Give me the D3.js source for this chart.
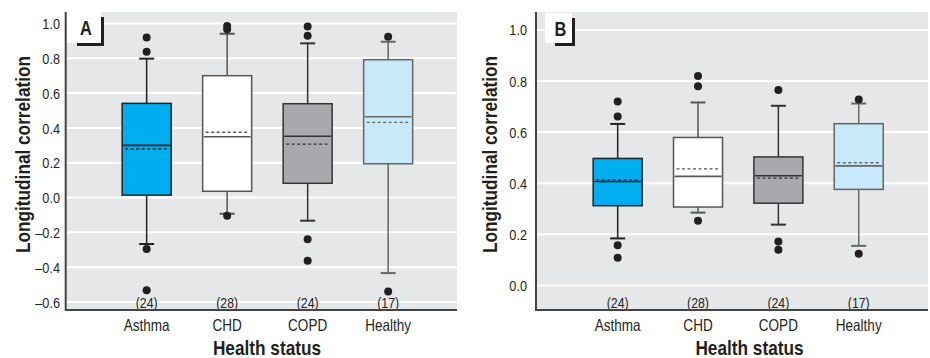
<!DOCTYPE html>
<html>
<head>
<meta charset="utf-8">
<script src="https://cdn.jsdelivr.net/npm/d3@7"></script>
<style>
  body { margin: 0; background: #fff; }
  text { font-family: "Liberation Sans Narrow", "Arial Narrow", "Liberation Sans", Arial, sans-serif; fill: #231f20; }
</style>
</head>
<body>
<div id="chart"></div>
<script>
const categories = ["Asthma", "CHD", "COPD", "Healthy"];
const counts = [24, 28, 24, 17];
const fills = ["#00aeef", "#ffffff", "#a7a9ac", "#c7e9f9"];
const strokes = ["#222", "#555", "#333", "#666"];

// panel A
const ticksA = [-0.6, -0.4, -0.2, 0.0, 0.2, 0.4, 0.6, 0.8, 1.0];
const q1A = [0.014, 0.036, 0.082, 0.194];
const medianA = [0.30, 0.349, 0.352, 0.464];
const meanA = [0.279, 0.375, 0.307, 0.432];
const q3A = [0.541, 0.70, 0.539, 0.792];
const whiskerLoA = [-0.267, -0.093, -0.133, -0.434];
const whiskerHiA = [0.798, 0.941, 0.886, 0.895];
const outliersA = [
  [0.92, 0.838, -0.296, -0.532],
  [0.986, 0.967, -0.105],
  [0.982, 0.93, -0.239, -0.363],
  [0.924, -0.539]
];

// panel B
const ticksB = [0.0, 0.2, 0.4, 0.6, 0.8, 1.0];
const q1B = [0.312, 0.307, 0.322, 0.376];
const medianB = [0.407, 0.427, 0.429, 0.468];
const meanB = [0.413, 0.456, 0.42, 0.48];
const q3B = [0.497, 0.579, 0.503, 0.633];
const whiskerLoB = [0.184, 0.285, 0.238, 0.155];
const whiskerHiB = [0.632, 0.716, 0.703, 0.712];
const outliersB = [
  [0.72, 0.661, 0.157, 0.108],
  [0.82, 0.779, 0.253],
  [0.765, 0.172, 0.14],
  [0.728, 0.124]
];

const svg = d3.select("#chart").append("svg")
  .attr("width", 930)
  .attr("height", 358);

const fmt = d => d < 0 ? "\u2013" + d3.format(".1f")(-d) : d3.format(".1f")(d);

// no condensed font installed, so squeeze the glyphs a bit
function condense() {
  const w = this.getComputedTextLength();
  d3.select(this).attr("textLength", w * 0.82).attr("lengthAdjust", "spacingAndGlyphs");
}

const drawPanel = p => {
  const top = 12, bottom = 310;
  const y = d3.scaleLinear().domain(p.yDomain).range([bottom, top]);
  const x = d3.scalePoint().domain(categories).range(p.xRange).padding(0.5);
  const boxW = 49, capW = 15;

  const g = svg.append("g");

  g.append("rect")
    .attr("x", p.left).attr("y", top)
    .attr("width", p.right - p.left).attr("height", bottom - top)
    .attr("fill", "#e6e7e8");

  // grid
  g.selectAll(".grid").data(p.ticks).enter().append("line")
    .attr("x1", p.left).attr("x2", p.right)
    .attr("y1", d => y(d)).attr("y2", d => y(d))
    .attr("stroke", "#fff").attr("stroke-width", 2);

  // tick labels
  g.selectAll(".tick").data(p.ticks).enter().append("text")
    .attr("x", p.tickX).attr("y", d => y(d)).attr("dy", "0.36em")
    .attr("text-anchor", "end").style("font-size", "15.5px")
    .text(fmt)
    .each(condense);

  // panel letter
  g.append("rect").attr("x", p.lab[0]).attr("y", p.lab[1])
    .attr("width", p.lab[2]).attr("height", p.lab[3]).attr("fill", "#fff");
  g.append("path")
    .attr("d", `M${p.lab[0] + 10},${p.lab[1] + p.lab[3] + 1.5}H${p.lab[0] + p.lab[2] + 1.5}V${p.lab[1] + 5}`)
    .attr("fill", "none").attr("stroke", "#231f20").attr("stroke-width", 3);
  g.append("text").attr("x", p.lab[0] + p.lab[2] / 2 + 2).attr("y", p.lab[1] + 23)
    .attr("text-anchor", "middle").style("font-size", "20px").style("font-weight", "bold")
    .text(p.letter)
    .each(condense);

  const cell = g.selectAll(".box").data(categories).enter().append("g")
    .attr("transform", d => `translate(${x(d)},0)`);

  // whiskers
  cell.append("line")
    .attr("y1", (d, i) => y(p.whiskerLo[i])).attr("y2", (d, i) => y(p.q1[i]))
    .attr("stroke", (d, i) => strokes[i]).attr("stroke-width", 1.5);
  cell.append("line")
    .attr("y1", (d, i) => y(p.q3[i])).attr("y2", (d, i) => y(p.whiskerHi[i]))
    .attr("stroke", (d, i) => strokes[i]).attr("stroke-width", 1.5);
  cell.selectAll(".cap").data((d, i) => [p.whiskerLo[i], p.whiskerHi[i]].map(v => ({ v, i })))
    .enter().append("line")
    .attr("x1", -capW / 2).attr("x2", capW / 2)
    .attr("y1", d => y(d.v)).attr("y2", d => y(d.v))
    .attr("stroke", d => strokes[d.i]).attr("stroke-width", 2);

  // boxes
  cell.append("rect")
    .attr("x", -boxW / 2).attr("width", boxW)
    .attr("y", (d, i) => y(p.q3[i]))
    .attr("height", (d, i) => y(p.q1[i]) - y(p.q3[i]))
    .attr("fill", (d, i) => fills[i])
    .attr("stroke", (d, i) => strokes[i]).attr("stroke-width", 1.5);

  cell.append("line")
    .attr("x1", -boxW / 2 + 1).attr("x2", boxW / 2 - 1)
    .attr("y1", (d, i) => y(p.median[i])).attr("y2", (d, i) => y(p.median[i]))
    .attr("stroke", (d, i) => strokes[i]).attr("stroke-width", 1.6);
  cell.append("line")
    .attr("x1", -boxW / 2 + 3).attr("x2", boxW / 2 - 2)
    .attr("y1", (d, i) => y(p.mean[i])).attr("y2", (d, i) => y(p.mean[i]))
    .attr("stroke", (d, i) => strokes[i]).attr("stroke-width", 1.4)
    .attr("stroke-dasharray", "3,2.5");

  // outliers
  cell.selectAll("circle").data((d, i) => p.outliers[i]).enter().append("circle")
    .attr("cy", d => y(d)).attr("r", 4)
    .attr("fill", "#231f20");

  // n
  cell.append("text")
    .attr("y", 308).attr("text-anchor", "middle").style("font-size", "15px")
    .text((d, i) => `(${counts[i]})`)
    .each(condense);

  // axes
  g.append("path")
    .attr("d", `M${p.left},${top}V${bottom}H${p.right}`)
    .attr("fill", "none").attr("stroke", "#444").attr("stroke-width", 2);

  // category labels
  g.selectAll(".cat").data(categories).enter().append("text")
    .attr("x", d => x(d)).attr("y", 331)
    .attr("text-anchor", "middle").style("font-size", "16.5px")
    .text(d => d)
    .each(condense);

  g.append("text")
    .attr("x", p.titleX).attr("y", 355)
    .attr("text-anchor", "middle").style("font-size", "21px").style("font-weight", "bold")
    .text("Health status")
    .each(condense);

  g.append("text")
    .attr("transform", `translate(${p.yTitleX},${154.5}) rotate(-90)`)
    .attr("text-anchor", "middle").style("font-size", "21px").style("font-weight", "bold")
    .text("Longitudinal correlation")
    .each(condense);
};

drawPanel({
  letter: "A", left: 65.7, right: 457, xRange: [106.4, 428.4], yDomain: [-0.646, 1.066],
  ticks: ticksA, tickX: 60, lab: [67, 12, 34, 31], titleX: 267, yTitleX: 30,
  q1: q1A, median: medianA, mean: meanA, q3: q3A,
  whiskerLo: whiskerLoA, whiskerHi: whiskerHiA, outliers: outliersA
});

drawPanel({
  letter: "B", left: 536, right: 928, xRange: [577.5, 898.9], yDomain: [-0.096, 1.07],
  ticks: ticksB, tickX: 527, lab: [545, 13, 27, 30], titleX: 749.5, yTitleX: 497,
  q1: q1B, median: medianB, mean: meanB, q3: q3B,
  whiskerLo: whiskerLoB, whiskerHi: whiskerHiB, outliers: outliersB
});
</script>
</body>
</html>
